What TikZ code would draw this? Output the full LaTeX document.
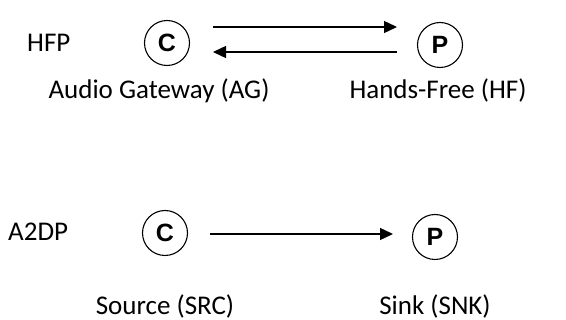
\documentclass[tikz,border=0pt]{standalone}
\usepackage{fontspec}
\setmainfont{Carlito}
\newfontfamily\rolefont{Liberation Sans}
\usetikzlibrary{arrows.meta}

\tikzset{
  role/.style={draw, circle, line width=1.1pt, minimum size=45pt, inner sep=0pt,
    font=\rolefont\bfseries\fontsize{25}{25}\selectfont},
  lbl/.style={font=\fontsize{27}{27}\selectfont, inner sep=0pt},
  msg/.style={line width=1.4pt, -{Triangle[length=13pt,width=12pt]}},
}

\begin{document}
\begin{tikzpicture}[x=1pt, y=-1pt]
    \useasboundingbox (0,0) rectangle (566,320);
    % HFP: gateway and hands-free, both directions
    \node[lbl, anchor=west] (hfp) at (27,43) {HFP};
    \node[role] (hfpC) at (167,43) {C};
    \node[role] (hfpP) at (440,45) {P};
    \node[lbl] (ag) at (159,91) {Audio Gateway (AG)};
    \node[lbl] (hf) at (438,91) {Hands-Free (HF)};
    \coordinate (agTx) at (213,27);
    \coordinate (hfRx) at (397,27);
    \coordinate (hfTx) at (397,52);
    \coordinate (agRx) at (213,52);
    \draw[msg] (agTx) -- (hfRx);
    \draw[msg] (hfTx) -- (agRx);
    % A2DP: one way, source to sink
    \node[lbl, anchor=west] (a2dp) at (8,232) {A2DP};
    \node[role] (a2dpC) at (165,233) {C};
    \node[role] (a2dpP) at (435,237) {P};
    \node[lbl] (src) at (165,306.5) {Source (SRC)};
    \node[lbl] (snk) at (435,306.5) {Sink (SNK)};
    \coordinate (srcTx) at (210,234);
    \coordinate (snkRx) at (393,234);
    \draw[msg] (srcTx) -- (snkRx);
\end{tikzpicture}
\end{document}
